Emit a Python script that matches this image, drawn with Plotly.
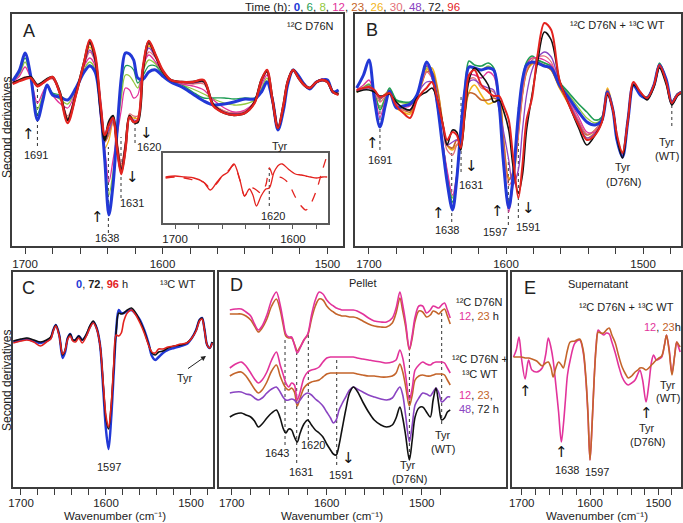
import plotly.graph_objects as go

W, H = 683, 523
FONT = "Liberation Sans, Arial, sans-serif"
ARROW_FONT = "DejaVu Sans, Liberation Sans, sans-serif"
TXT = "#222222"
FRAME = "#3c3c3c"
SUP12 = "\u00b9\u00b2"
SUP13 = "\u00b9\u00b3"

C_BLUE = "#2238d6"
C_GREEN = "#1f9d55"
C_LGREEN = "#93c83e"
C_MAGENTA = "#e2339b"
C_BROWN = "#c4642a"
C_YELLOW = "#f2b51a"
C_SALMON = "#e36f78"
C_PURPLE = "#8a44c2"
C_BLACK = "#111111"
C_RED = "#e3231f"

# ---------------- Panel A : 12C D76N (second derivative, arb. units) ----------------
wn_A = [1709, 1704, 1700, 1696, 1691, 1687, 1684, 1680, 1675, 1669,
        1663, 1657, 1653, 1649, 1645, 1642, 1639, 1636, 1633, 1630,
        1627, 1624, 1621, 1618, 1614, 1610, 1605, 1600, 1594, 1586,
        1578, 1570, 1563, 1555, 1548, 1540, 1533, 1528, 1524, 1520,
        1516, 1512, 1509, 1505, 1501, 1497, 1493, 1488, 1484, 1480,
        1476, 1472]
A_h0 = [-1, 10, 27, 5, -40, -20, -5, -15, -17, -20,
        -8, 8, 14, 8, -30, -80, -135, -105, -50, 2,
        27, 26, 20, 2, 1, 8, 10, 4, -2, -7,
        -14, -21, -25, -24, -22, -19, -19, -12, -2, -20,
        -50, -30, -5, 10, 4, -4, -9, -2, 0, 0,
        -12, -10]
A_h6 = [-1, 8, 22, 4, -34, -18, -5, -13, -15, -20,
        -8, 8, 15, 9, -32, -78, -128, -100, -52, -8,
        14, 14, 10, -3, 5, 14, 14, 6, -1, -5,
        -12, -18, -18, -18, -19, -18, -18, -10, -1, -20,
        -50, -30, -5, 10, 4, -4, -9, -2, 0, 0,
        -12, -10]
A_h8 = [-1, 6, 18, 3, -29, -15, -5, -14, -19, -24,
        -9, 11, 18, 11, -35, -74, -115, -92, -52, -18,
        5, 4, -2, -8, 10, 20, 16, 7, -1, -5,
        -9, -14, -19, -23, -25, -24, -20, -8, 2, -20,
        -50, -28, -4, 10, 4, -4, -8, -2, 0, 0,
        -12, -11]
A_h12 = [-2, 4, 13, 2, -23, -12, -6, -15, -23, -28,
         -11, 14, 22, 14, -38, -70, -102, -80, -55, -30,
         -8, -10, -18, -15, 15, 25, 18, 8, 0, -4,
         -6, -10, -20, -28, -32, -30, -22, -5, 5, -20,
         -49, -26, -3, 10, 3, -4, -8, -2, 1, 0,
         -11, -12]
A_h23 = [-3, 0, 2, 3, -5, -2, 1, 2, -12, -40,
         -14, 16, 36, 22, -28, -62, -52, -40, -66, -90,
         -66, -38, -42, -42, 14, 36, 24, 9, 0, -2,
         -3, -2, -25, -32, -34, -32, -22, 0, 9, -20,
         -48, -25, -2, 10, 2, -5, -8, -2, 0, -2,
         -12, -14]
A_h26 = [-3, 0, 2, 3, -6, -3, 0, 2, -11, -38,
         -13, 17, 33, 20, -32, -68, -60, -42, -64, -86,
         -64, -36, -38, -38, 14, 34, 23, 9, 0, -2,
         -3, -2, -24, -31, -33, -31, -21, 0, 9, -20,
         -48, -25, -2, 10, 2, -5, -8, -2, 0, -2,
         -12, -14]
A_h30 = [-3, 0, 3, 3, -7, -3, 0, 1, -13, -36,
         -13, 15, 28, 18, -32, -62, -55, -42, -62, -84,
         -62, -34, -36, -36, 12, 28, 22, 9, 0, -2,
         -4, -4, -24, -31, -33, -31, -21, 0, 8, -20,
         -48, -25, -2, 10, 2, -5, -8, -2, 0, -2,
         -12, -14]
A_h48 = [-3, 0, 2, 3, -6, -3, 0, 2, -12, -39,
         -14, 16, 30, 19, -30, -58, -50, -40, -66, -88,
         -66, -38, -40, -40, 13, 32, 23, 9, 0, -2,
         -3, -2, -25, -32, -34, -32, -22, 0, 9, -20,
         -48, -25, -2, 10, 2, -5, -8, -2, 0, -2,
         -12, -14]
A_h72 = [-3, 0, 2, 3, -5, -2, 1, 3, -11, -40,
         -14, 18, 38, 22, -30, -60, -42, -36, -68, -92,
         -68, -36, -42, -42, 12, 38, 24, 9, 0, -2,
         -2, -1, -25, -33, -35, -33, -22, 0, 9, -20,
         -48, -25, -2, 10, 2, -5, -8, -2, 0, -2,
         -12, -14]
A_h96 = [-4, -1, 1, 2, -6, -3, 0, 3, -12, -43,
         -15, 18, 40, 25, -25, -55, -45, -38, -70, -94,
         -70, -37, -42, -40, 15, 39, 25, 10, 0, -2,
         -2, 0, -26, -33, -35, -33, -23, 0, 10, -20,
         -48, -25, -2, 10, 2, -5, -8, -2, 0, -2,
         -12, -15]

# inset of panel A (96 h, solid and dashed)
wn_I = [1708, 1700, 1692, 1684, 1676, 1670, 1665, 1660, 1655, 1650,
        1645, 1641, 1637, 1634, 1631, 1627, 1623, 1620, 1616, 1612,
        1609, 1604, 1598, 1593, 1589, 1585, 1580, 1575, 1571]
I_solid = [0, 1, 0, -1, -5, -13, -6, 1, 5, 13,
           -3, -19, -12, -18, -29, -19, -12, -11, 5, 12,
           13, 8, 3, 2, 1, 0, -1, 0, 0]
I_dashed = [-1, 0, -1, -3, -5, -11, -7, 1, 6, 12,
            -3, -19, -12, -11, -13, -16, -8, 9, -1, 0,
            -1, -6, -20, -29, -33, -27, -13, 7, 22]

# ---------------- Panel B : 12C D76N + 13C WT ----------------
wn_B = [1709, 1704, 1700, 1696, 1692, 1688, 1685, 1680, 1675, 1670,
        1665, 1661, 1658, 1654, 1650, 1646, 1643, 1639, 1636, 1633,
        1630, 1627, 1623, 1618, 1613, 1609, 1605, 1602, 1598, 1595,
        1591, 1588, 1585, 1581, 1577, 1572, 1567, 1561, 1554, 1547,
        1541, 1535, 1530, 1526, 1522, 1519, 1515, 1511, 1507, 1502,
        1497, 1492, 1488, 1483, 1479, 1475, 1472]
B_h0 = [2, 15, 30, -10, -37, -15, -1, -18, -16, -14,
        -5, 15, 28, 16, -15, -60, -92, -120, -90, -40,
        0, 23, 22, 20, 22, 20, -15, -70, -118, -90,
        -25, 10, 25, 28, 27, 24, 22, 5, -8, -22,
        -32, -35, -30, -2, -20, -50, -67, -30, 5, -5,
        -8, 5, 25, 10, -13, -5, -2]
B_h6 = [-2, 2, 5, -3, -20, -8, 2, -10, -12, -12,
        -5, 12, 24, 14, -15, -55, -85, -112, -88, -40,
        2, 29, 25, 24, 27, 22, -12, -68, -115, -90,
        -25, 10, 28, 34, 30, 27, 24, 8, -3, -14,
        -22, -30, -27, 0, -20, -50, -66, -30, 6, -4,
        -7, 6, 27, 10, -12, -4, -2]
B_h8 = [-1, 3, 6, -2, -18, -7, 1, -11, -13, -13,
        -5, 11, 22, 12, -16, -55, -82, -108, -86, -42,
        -2, 24, 22, 20, 24, 19, -13, -68, -112, -88,
        -25, 8, 26, 32, 30, 27, 23, 7, -5, -18,
        -28, -33, -28, -1, -20, -50, -66, -30, 6, -4,
        -7, 6, 26, 10, -12, -4, -2]
B_h12 = [0, 5, 10, -5, -27, -10, -2, -15, -17, -16,
         -5, 12, 25, 12, -18, -55, -80, -105, -85, -45,
         -8, 15, 15, 12, 18, 14, -15, -72, -122, -95,
         -30, 5, 25, 32, 32, 30, 25, 5, -10, -27,
         -42, -42, -32, -4, -20, -48, -66, -30, 6, -4,
         -8, 5, 25, 9, -14, -5, -2]
B_h23 = [-1, 2, 3, 0, -9, -4, -1, -15, -20, -22,
         -7, 9, 18, 18, 0, -35, -55, -58, -50, -52,
         -22, -3, -4, -10, -10, -8, -12, -48, -90, -82,
         -40, -3, 18, 27, 26, 24, 20, 3, -13, -32,
         -45, -40, -30, 0, -20, -48, -63, -28, 6, -3,
         -8, 5, 24, 9, -12, -4, -2]
B_h26 = [-2, 1, 2, -1, -8, -4, -2, -18, -22, -24,
         -8, 8, 20, 22, 2, -35, -55, -60, -55, -55,
         -25, -2, 5, -5, -14, -12, -10, -45, -88, -85,
         -45, -5, 18, 26, 27, 25, 20, 2, -15, -35,
         -48, -42, -30, 2, -18, -48, -62, -28, 6, -3,
         -8, 5, 24, 9, -12, -4, -2]
B_h30 = [-1, 2, 4, -2, -12, -6, -2, -16, -20, -20,
         -6, 10, 18, 12, -8, -40, -60, -65, -55, -48,
         -15, 10, 12, 2, 0, -2, -15, -55, -95, -88,
         -45, -5, 20, 30, 33, 34, 28, 5, -12, -30,
         -44, -40, -30, 0, -20, -48, -64, -29, 6, -3,
         -8, 5, 24, 9, -13, -4, -2]
B_h48 = [-1, 1, 2, -1, -8, -5, -3, -13, -18, -20,
         -6, 4, 8, 8, -8, -38, -55, -52, -50, -52,
         -18, 8, 10, 5, 2, 0, -20, -40, -70, -95,
         -80, -40, -5, 20, 32, 38, 33, 8, -12, -33,
         -48, -43, -31, -2, -20, -48, -66, -30, 5, -3,
         -9, 4, 23, 7, -14, -5, -2]
B_h72 = [-2, 0, 0, -2, -6, -5, -4, -12, -18, -20,
         -8, -4, -2, 2, -10, -35, -55, -40, -42, -60,
         -25, 10, 22, 15, 5, -12, -10, -20, -40, -75,
         -103, -85, -40, -5, 28, 58, 50, 10, -15, -38,
         -55, -45, -32, -5, -20, -48, -68, -30, 5, -2,
         -10, 3, 22, 5, -15, -6, -3]
B_h96 = [0, 2, 3, 0, -7, -5, -3, -16, -23, -28,
         -10, -2, 2, 8, -10, -35, -50, -42, -45, -58,
         -20, 15, 20, 5, -2, -6, -6, -15, -30, -65,
         -108, -75, -30, -8, 35, 67, 60, 10, -15, -35,
         -50, -45, -32, -3, -20, -45, -63, -30, 8, -2,
         -8, 5, 25, 8, -13, -5, -2]

# ---------------- Panel C : 13C WT ----------------
wn_C = [1709, 1700, 1693, 1685, 1677, 1670, 1665, 1662, 1659, 1655,
        1651, 1648, 1645, 1642, 1639, 1636, 1632, 1628, 1623, 1619,
        1615, 1611, 1607, 1603, 1600, 1597, 1594, 1591, 1588, 1585,
        1582, 1579, 1575, 1570, 1565, 1560, 1555, 1550, 1546, 1542,
        1538, 1533, 1527, 1520, 1512, 1505, 1499, 1494, 1490, 1487,
        1484, 1481, 1478, 1475]
C_h0 = [-1, 1, 2, 0, -2, 0, 3, 11, 16, 6,
        -17, -11, 3, 7, 1, 1, 5, 1, 6, 14,
        19, 13, -4, -52, -89, -108, -79, -34, 11, 31,
        28, 28, 30, 31, 27, 21, 11, -2, -15, -19,
        -16, -12, -9, -7, -5, -3, 3, 11, 21, 23,
        11, -4, -7, -1]
C_h72 = [0, 2, 3, 1, -1, 1, 4, 11, 16, 6,
         -14, -9, 3, 7, 1, 1, 5, 1, 7, 15,
         20, 13, -4, -47, -78, -88, -66, -28, 10, 28,
         27, 28, 31, 33, 28, 20, 10, -3, -12, -14,
         -11, -10, -7, -5, -4, -2, 3, 11, 21, 23,
         11, -4, -7, -1]
C_h96 = [-2, 0, 1, -1, -5, -1, 2, 10, 15, 5,
         -13, -9, 2, 5, 0, -1, 3, -2, 5, 13,
         18, 12, -4, -45, -75, -86, -65, -25, 6, 5,
         8, 20, 28, 31, 26, 18, 8, -4, -11, -12,
         -8, -8, -6, -5, -3, -2, 3, 10, 20, 22,
         10, -4, -7, -2]

# ---------------- Panel D : Pellet (stacked) ----------------
wn_D = [1702, 1696, 1690, 1685, 1680, 1676, 1672, 1668, 1663, 1658,
        1653, 1649, 1646, 1643, 1640, 1637, 1634, 1631, 1628, 1624,
        1620, 1616, 1612, 1608, 1604, 1600, 1596, 1593, 1590, 1587,
        1584, 1580, 1576, 1572, 1568, 1562, 1556, 1550, 1543, 1537,
        1531, 1527, 1523, 1520, 1517, 1513, 1510, 1507, 1503, 1499,
        1495, 1491, 1488, 1485, 1482, 1479, 1476, 1473, 1470]
D_d76n_h12 = [0, 1, 1, -2, -6, -14, -20, -16, -5, 10,
              18, 5, -10, -24, -27, -27, -35, -43, -38, -30,
              -24, -5, 10, 18, 16, 10, 6, 4, 2, 1,
              0, 0, 0, 0, -1, -4, -8, -11, -12, -12,
              -8, 2, 18, 5, -12, -39, -25, -7, 4, 4,
              -3, 0, 4, 3, 2, 5, 7, 0, -8]
D_d76n_h23 = [0, 0, 0, -2, -6, -12, -18, -14, -5, 8,
              15, 4, -10, -22, -24, -24, -30, -37, -33, -26,
              -21, -5, 8, 15, 14, 8, 4, 2, 0, -1,
              -2, -2, -3, -3, -4, -7, -10, -12, -13, -13,
              -9, 1, 16, 3, -12, -36, -24, -7, 3, 2,
              -3, -1, 3, 2, 0, 3, 5, -2, -10]
D_mix_h12 = [-2, 2, 4, 0, -7, -13, -17, -14, -6, 6,
             14, 1, -8, -17, -21, -17, -19, -34, -26, -12,
             -6, -4, -3, -1, 4, 8, 9, 9, 9, 9,
             9, 9, 9, 9, 8, 7, 6, 5, 4, 3,
             4, 6, 16, 8, -9, -34, -22, -4, 1, 4,
             2, 1, 3, 4, 4, 4, 3, -2, -7]
D_mix_h23 = [0, 3, 4, 0, -7, -13, -17, -14, -6, 5,
             11, 0, -7, -12, -14, -12, -16, -30, -22, -12,
             -8, -6, -5, -4, -1, 2, 3, 3, 3, 3,
             3, 3, 3, 3, 2, 1, 0, 0, -1, -1,
             0, 3, 12, 4, -10, -30, -19, -4, 0, 1,
             0, 0, 1, 2, 2, 2, 1, -4, -9]
D_mix_h48 = [1, 2, 2, 0, -1, -4, -6, -4, 1, 5,
             7, 2, -3, -6, -6, -5, -6, -9, -6, -1,
             1, -1, -5, -8, -12, -18, -24, -29, -26, -16,
             -10, -3, 4, 7, 5, 2, -1, -3, -5, -6,
             -4, 2, 7, -1, -21, -48, -31, -11, -4, 1,
             0, -2, 2, 6, 1, -8, -6, -3, -3]
D_mix_h72 = [0, 3, 4, 2, 0, -4, -10, -7, -1, 4,
             7, -1, -11, -16, -12, -13, -20, -25, -16, -7,
             -3, -8, -13, -16, -20, -27, -33, -37, -38, -28,
             -13, 7, 24, 30, 26, 15, 5, -3, -8, -10,
             -8, -1, 10, -1, -18, -43, -23, 0, 9, 10,
             5, 0, 17, 29, 12, -3, -1, 5, 7]
D_offsets = [38, 42, 94, 104, 122, 145]   # vertical stacking of the six spectra

# ---------------- Panel E : Supernatant ----------------
wn_E = [1712, 1708, 1704, 1700, 1695, 1690, 1685, 1678, 1670, 1665,
        1661, 1657, 1654, 1650, 1646, 1642, 1639, 1636, 1633, 1629,
        1622, 1615, 1610, 1606, 1603, 1600, 1597, 1594, 1591, 1588,
        1584, 1580, 1576, 1572, 1568, 1563, 1558, 1553, 1548, 1544,
        1539, 1534, 1530, 1527, 1523, 1518, 1514, 1510, 1507, 1503,
        1499, 1495, 1491, 1488, 1484, 1480, 1476, 1473, 1470, 1468]
E_h12 = [0, 7, 20, -3, -22, -3, -13, -15, -11, 2,
         19, 9, -3, -28, -55, -85, -68, -43, -18, -3,
         14, 17, 5, -23, -58, -103, -68, -23, 12, 27,
         24, 22, 24, 23, 15, 4, -9, -20, -26, -28,
         -26, -23, -17, -13, -23, -45, -28, -5, 2, -3,
         -2, 0, 12, 22, 7, -16, 2, 15, 9, 5]
E_h23 = [0, 0, 0, 0, -1, -1, -2, -4, -9, -6,
         -5, -11, -20, -11, -5, -8, -11, -3, 7, 15,
         16, 18, 7, -21, -56, -103, -68, -23, 10, 25,
         24, 24, 27, 29, 22, 14, 1, -10, -17, -21,
         -19, -15, -13, -11, -11, -13, -11, -8, -6, -3,
         -1, 1, 12, 22, 5, -18, 2, 15, 12, 10]

# tick labels (cm-1); minor ticks every 20 cm-1
label_vals_std = [1700, 1600, 1500]
label_vals_A = [1700, 1600, 1480]          # panel A prints "1500" under its last tick
label_text = ["1700", "1600", "1500"]
minor_vals = [1680, 1660, 1640, 1620, 1580, 1560, 1540, 1520, 1500, 1480]
inset_label_vals = [1700, 1600]
inset_label_text = ["1700", "1600"]
inset_minor_vals = [1680, 1660, 1640, 1620, 1580]

for name, xs, series in [("A", wn_A, [A_h0, A_h6, A_h8, A_h12, A_h23, A_h26, A_h30, A_h48, A_h72, A_h96]),
                         ("B", wn_B, [B_h0, B_h6, B_h8, B_h12, B_h23, B_h26, B_h30, B_h48, B_h72, B_h96]),
                         ("C", wn_C, [C_h0, C_h72, C_h96]),
                         ("D", wn_D, [D_d76n_h12, D_d76n_h23, D_mix_h12, D_mix_h23, D_mix_h48, D_mix_h72]),
                         ("E", wn_E, [E_h12, E_h23]),
                         ("I", wn_I, [I_solid, I_dashed])]:
    for s in series:
        assert len(s) == len(xs), (name, len(s), len(xs))


def X(px):
    return px / W


def Y(py):
    return 1 - py / H


fig = go.Figure()


def curve(xs, ys, color, width, ax, dash=None):
    fig.add_trace(go.Scatter(
        x=xs, y=ys, mode="lines",
        line=dict(color=color, width=width, shape="spline", smoothing=0.9, dash=dash),
        xaxis="x" + ax, yaxis="y" + ax, hoverinfo="skip", showlegend=False))


thin = 1.3
# Panel A (draw order: light curves first, bold 0 h / 72 h / 96 h on top)
for ys, col, w in [(A_h8, C_LGREEN, thin), (A_h6, C_GREEN, thin), (A_h26, C_YELLOW, thin),
                   (A_h30, C_SALMON, thin), (A_h23, C_BROWN, thin), (A_h48, C_PURPLE, thin),
                   (A_h12, C_MAGENTA, thin), (A_h0, C_BLUE, 3.0), (A_h72, C_BLACK, 2.4),
                   (A_h96, C_RED, 2.4)]:
    curve(wn_A, ys, col, w, "")
# Panel B
for ys, col, w in [(B_h8, C_LGREEN, thin), (B_h6, C_GREEN, 1.6), (B_h26, C_YELLOW, 1.6),
                   (B_h23, C_BROWN, 1.6), (B_h30, C_SALMON, thin), (B_h48, C_PURPLE, thin),
                   (B_h12, C_MAGENTA, thin), (B_h0, C_BLUE, 3.0), (B_h72, C_BLACK, 1.6),
                   (B_h96, C_RED, 2.0)]:
    curve(wn_B, ys, col, w, "2")
# Panel C
for ys, col, w in [(C_h0, C_BLUE, 2.4), (C_h72, C_BLACK, 1.6), (C_h96, C_RED, 1.6)]:
    curve(wn_C, ys, col, w, "3")
# Panel D (stacked spectra)
for ys, col, off in [(D_d76n_h23, C_BROWN, D_offsets[1]), (D_d76n_h12, C_MAGENTA, D_offsets[0]),
                     (D_mix_h23, C_BROWN, D_offsets[3]), (D_mix_h12, C_MAGENTA, D_offsets[2]),
                     (D_mix_h48, C_PURPLE, D_offsets[4]), (D_mix_h72, C_BLACK, D_offsets[5])]:
    curve(wn_D, [v - off for v in ys], col, 1.6, "4")
# Panel E
curve(wn_E, E_h12, C_MAGENTA, 1.6, "5")
curve(wn_E, E_h23, C_BROWN, 1.6, "5")
# Inset of A
curve(wn_I, I_solid, C_RED, 1.3, "6")
curve(wn_I, I_dashed, C_RED, 1.3, "6", dash="dash")

axis_common = dict(showline=True, mirror=True, linecolor=FRAME, linewidth=1.6,
                   showgrid=False, zeroline=False)
xcommon = dict(axis_common, ticks="outside", ticklen=6, tickwidth=1.2, tickcolor=FRAME,
               tickfont=dict(family=FONT, size=11.5, color=TXT))
ycommon = dict(axis_common, showticklabels=False, ticks="")

panels = [
    # suffix, x px domain, y px domain, x range, y range, label vals, minor vals, texts, standoff
    ("", (12, 343), (14, 246), [1709.5, 1468.7], [-166, 66], label_vals_A, minor_vals, label_text, 0),
    ("2", (355, 681), (14, 246), [1710.2, 1472.3], [-156, 76], label_vals_std, minor_vals, label_text, 0),
    ("3", (13, 213), (272, 487), [1709.4, 1474.1], [-146, 69], label_vals_std, minor_vals, label_text, -2),
    ("4", (219, 506), (272, 487), [1713.4, 1411.3], [-215, 0], label_vals_std, minor_vals, label_text, -2),
    ("5", (512, 681), (272, 487), [1714.2, 1466.8], [-130, 85], label_vals_std, minor_vals, label_text, -2),
    ("6", (163, 328), (153, 223), [1710.2, 1570.3], [-46, 24], inset_label_vals, inset_minor_vals,
     inset_label_text, 0),
]
layout_axes = {}
for suf, (x0, x1), (y0, y1), xr, yr, tv, mv, tt, so in panels:
    tcol = "#5a5a5a" if suf == "6" else FRAME
    tlen = 4 if suf == "6" else 6
    xa = dict(xcommon, domain=[X(x0), X(x1)], range=xr, tickmode="array", tickvals=tv,
              ticktext=tt, anchor="y" + suf, ticklen=tlen, tickcolor=tcol,
              ticklabelstandoff=so,
              minor=dict(tickmode="array", tickvals=mv, ticks="outside", ticklen=tlen,
                         tickwidth=1.2, tickcolor=tcol, showgrid=False))
    ya = dict(ycommon, domain=[Y(y1), Y(y0)], range=yr, anchor="x" + suf)
    if suf == "6":
        xa.update(linecolor="#5a5a5a")
        ya.update(linecolor="#5a5a5a")
    layout_axes["xaxis" + suf] = xa
    layout_axes["yaxis" + suf] = ya

fig.update_layout(width=W, height=H, margin=dict(l=0, r=0, t=0, b=0, autoexpand=False),
                  paper_bgcolor="white", plot_bgcolor="rgba(0,0,0,0)",
                  font=dict(family=FONT, color=TXT), showlegend=False, **layout_axes)

annotations = []


def ann(x, y, text, size=11, anchor="center", angle=0, color=TXT, family=FONT):
    annotations.append(dict(x=X(x), y=Y(y), xref="paper", yref="paper", text=text,
                            showarrow=False, xanchor=anchor, yanchor="middle",
                            textangle=angle, font=dict(family=family, size=size, color=color)))


def sp(c, t, bold=False):
    s = "<span style='color:%s'>%s</span>" % (c, t)
    return "<b>%s</b>" % s if bold else s


legend_txt = ("Time (h): " + sp(C_BLUE, "0", True) + ", " + sp(C_GREEN, "6") + ", " +
              sp(C_LGREEN, "8") + ", " + sp(C_MAGENTA, "12") + ", " + sp(C_BROWN, "23") + ", " +
              sp(C_YELLOW, "26") + ", " + sp(C_SALMON, "30") + ", " + sp(C_PURPLE, "48") +
              ", 72, " + sp(C_RED, "96"))
ann(352, 7, legend_txt, 11.5)

UP, DOWN = "\u2191", "\u2193"


def arrow(x, y, glyph):
    ann(x, y, glyph, 15, family=ARROW_FONT, color="#111111")


# Panel A
ann(29, 31, "A", 18)
ann(310, 26, SUP12 + "C D76N", 11)
for x, y, t in [(36, 155, "1691"), (107, 238, "1638"), (132, 203, "1631"), (149, 147, "1620"),
                (280, 146, "Tyr"), (273, 216, "1620")]:
    ann(x, y, t, 11)
for x, y, t in [(28, 134, UP), (97, 217, UP), (132, 177, DOWN), (146, 133, DOWN)]:
    arrow(x, y, t)
# Panel B
ann(372, 30, "B", 18)
ann(617, 25, SUP12 + "C D76N + " + SUP13 + "C WT", 11)
for x, y, t in [(380, 160, "1691"), (447, 230, "1638"), (471, 185, "1631"), (495, 232, "1597"),
                (528, 227, "1591"), (623, 167, "Tyr"), (623, 182, "(D76N)"),
                (667, 142, "Tyr"), (667, 156, "(WT)")]:
    ann(x, y, t, 11)
for x, y, t in [(372, 143, UP), (438, 213, UP), (471, 166, DOWN), (497, 211, UP), (528, 208, DOWN)]:
    arrow(x, y, t)
# Panel C
ann(28, 288, "C", 18)
ann(102, 284, sp(C_BLUE, "0", True) + ", <b>72</b>, " + sp(C_RED, "96", True) + " h", 11)
ann(178, 284, SUP13 + "C WT", 11)
ann(109, 467, "1597", 11)
ann(185, 378, "Tyr", 11)
annotations.append(dict(x=X(206), y=Y(356), xref="paper", yref="paper", text=" ",
                        showarrow=True, ax=-20, ay=14, arrowhead=2, arrowsize=1,
                        arrowwidth=1, arrowcolor=TXT, font=dict(size=2)))
# Panel D
ann(236, 285, "D", 18)
ann(363, 283, "Pellet", 11)
ann(454, 302, SUP12 + "C D76N", 11, anchor="left")
ann(457, 316, sp(C_MAGENTA, "12") + ", " + sp(C_BROWN, "23") + " h", 11, anchor="left")
ann(450, 359, SUP12 + "C D76N +", 11, anchor="left")
ann(460, 374, SUP13 + "C WT", 11, anchor="left")
ann(457, 395, sp(C_MAGENTA, "12") + ", " + sp(C_BROWN, "23") + ",", 11, anchor="left")
ann(457, 409, sp(C_PURPLE, "48") + ", 72 h", 11, anchor="left")
for x, y, t in [(277, 453, "1643"), (301, 472, "1631"), (313, 445, "1620"), (341, 475, "1591"),
                (408, 465, "Tyr"), (409, 479, "(D76N)"), (443, 435, "Tyr"), (443, 449, "(WT)")]:
    ann(x, y, t, 11)
arrow(348, 458, DOWN)
# Panel E
ann(530, 288, "E", 18)
ann(598, 284, "Supernatant", 11)
ann(626, 307, SUP12 + "C D76N + " + SUP13 + "C WT", 11)
ann(662, 327, sp(C_MAGENTA, "12") + ", " + sp(C_BROWN, "23") + "h", 11)
for x, y, t in [(567, 470, "1638"), (597, 472, "1597"), (668, 385, "Tyr"), (668, 398, "(WT)"),
                (647, 428, "Tyr"), (647, 442, "(D76N)")]:
    ann(x, y, t, 11)
for x, y in [(525, 391), (561, 452), (646, 413)]:
    arrow(x, y, UP)
# axis titles
for cx in (115, 332, 597):
    ann(cx, 516, "Wavenumber (cm\u207b\u00b9)", 11.5)
ann(7, 128, "Second derivatives", 12, angle=-90)
ann(7, 381, "Second derivatives", 12, angle=-90)

# dotted guide lines: (axis suffix, wavenumber, y_top px, y_bottom px)
guides = [("", 1691, 87, 146), ("", 1639.4, 147, 233), ("", 1630.2, 137, 198), ("", 1620, 117, 143),
          ("2", 1692, 97, 150), ("2", 1639.6, 148, 222), ("2", 1632.8, 95, 172),
          ("2", 1598.3, 158, 225), ("2", 1591, 105, 218), ("2", 1479, 105, 126),
          ("4", 1643.9, 337, 445), ("4", 1631.6, 352, 463), ("4", 1619.4, 333, 440),
          ("4", 1589.5, 360, 465), ("4", 1513, 350, 458), ("4", 1479, 310, 424),
          ("6", 1620.1, 168, 206)]
shapes = []
for suf, wn, yt, yb in guides:
    shapes.append(dict(type="line", xref="x" + suf, yref="paper", x0=wn, x1=wn,
                       y0=Y(yb), y1=Y(yt), layer="below",
                       line=dict(color="#333333", width=1, dash="dot")))

fig.update_layout(annotations=annotations, shapes=shapes)
fig.write_html("out.html", include_plotlyjs=True, config={"displayModeBar": False},
               post_script="document.body.style.margin='0';document.body.style.padding='0';"
                           "document.documentElement.style.overflow='hidden';")
